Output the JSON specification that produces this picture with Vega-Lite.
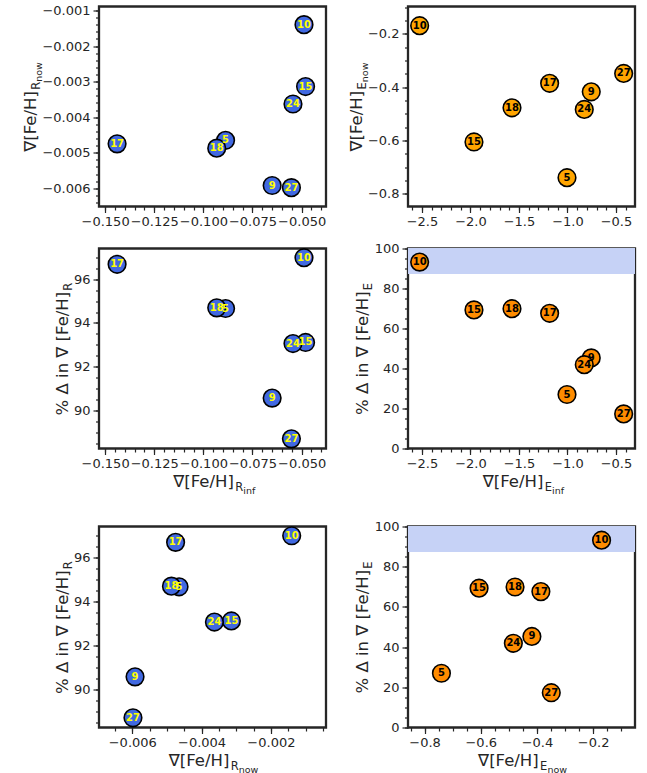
{
  "$schema": "https://vega.github.io/schema/vega-lite/v6.json",
  "padding": {"left": 7, "top": 2.5, "right": 0, "bottom": 0},
  "background": "white",
  "datasets": {
    "gal": [
      {"gal": "5", "R_inf": -0.0887, "R_now": -0.00465, "dR": 94.66, "E_inf": -1.005, "E_now": -0.740, "dE": 27.0},
      {"gal": "9", "R_inf": -0.0650, "R_now": -0.00592, "dR": 90.57, "E_inf": -0.755, "E_now": -0.418, "dE": 45.3},
      {"gal": "10", "R_inf": -0.0488, "R_now": -0.00140, "dR": 96.98, "E_inf": -2.524, "E_now": -0.170, "dE": 93.2},
      {"gal": "15", "R_inf": -0.0480, "R_now": -0.00314, "dR": 93.11, "E_inf": -1.964, "E_now": -0.606, "dE": 69.3},
      {"gal": "17", "R_inf": -0.1439, "R_now": -0.00475, "dR": 96.68, "E_inf": -1.184, "E_now": -0.386, "dE": 67.6},
      {"gal": "18", "R_inf": -0.0932, "R_now": -0.00487, "dR": 94.69, "E_inf": -1.572, "E_now": -0.478, "dE": 69.9},
      {"gal": "24", "R_inf": -0.0544, "R_now": -0.00363, "dR": 93.06, "E_inf": -0.827, "E_now": -0.484, "dE": 41.9},
      {"gal": "27", "R_inf": -0.0552, "R_now": -0.00598, "dR": 88.71, "E_inf": -0.421, "E_now": -0.349, "dE": 17.3}
    ]
  },
  "config": {
    "font": "DejaVu Sans",
    "view": {"stroke": "#262626", "strokeWidth": 2.3},
    "axis": {
      "grid": false, "domain": false,
      "labelFont": "DejaVu Sans", "labelFontSize": 13, "labelColor": "#262626", "labelPadding": 3,
      "labelFlush": false, "labelOverlap": false, "labelBound": false,
      "tickColor": "#262626", "tickWidth": 1.2, "tickSize": 6,
      "titleFont": "DejaVu Sans", "titleColor": "#262626", "titleFontWeight": "normal", "titleFontSize": 16.5,
      "titleAlign": "left", "titleBaseline": "alphabetic"
    }
  },
  "spacing": 10,
  "vconcat": [
    {
      "hconcat": [
        {
          "width": 227, "height": 200,
          "data": {"name": "gal"},
          "layer": [
            {
              "mark": {"type": "circle", "size": 310, "opacity": 1, "fill": "#4169E1", "stroke": "black", "strokeWidth": 1.6},
              "encoding": {
                "x": {"field": "R_inf", "type": "quantitative", "scale": {"domain": [-0.1531, -0.0376], "nice": false, "zero": false},
                      "axis": {"orient": "bottom", "values": [-0.15, -0.125, -0.1, -0.075, -0.05], "format": ".3f", "title": null}},
                "y": {"field": "R_now", "type": "quantitative", "scale": {"domain": [-0.00651, -0.00089], "nice": false, "zero": false},
                      "axis": {"orient": "left", "values": [-0.006, -0.005, -0.004, -0.003, -0.002, -0.001], "format": ".3f", "minExtent": 90,
                               "title": "∇[Fe/H]", "titleX": -63.6, "titleY": 144.8}}
              }
            },
            {
              "mark": {"type": "text", "fontWeight": "bold", "fontSize": 10, "color": "#FFFF00"},
              "encoding": {
                "x": {"field": "R_inf", "type": "quantitative", "scale": {"domain": [-0.1531, -0.0376], "nice": false, "zero": false},
                      "axis": {"orient": "bottom", "labels": false, "tickSize": 3.5, "title": null,
                               "values": [-0.15, -0.145, -0.14, -0.135, -0.13, -0.125, -0.12, -0.115, -0.11, -0.105, -0.1, -0.095, -0.09, -0.085, -0.08, -0.075, -0.07, -0.065, -0.06, -0.055, -0.05, -0.045, -0.04]}},
                "y": {"field": "R_now", "type": "quantitative", "scale": {"domain": [-0.00651, -0.00089], "nice": false, "zero": false},
                      "axis": {"orient": "left", "labels": false, "tickSize": 3.5,
                               "values": [-0.0064, -0.0062, -0.006, -0.0058, -0.0056, -0.0054, -0.0052, -0.005, -0.0048, -0.0046, -0.0044, -0.0042, -0.004, -0.0038, -0.0036, -0.0034, -0.0032, -0.003, -0.0028, -0.0026, -0.0024, -0.0022, -0.002, -0.0018, -0.0016, -0.0014, -0.0012, -0.001],
                               "title": "R", "titleFontSize": 11.5, "titleX": -59.6, "titleY": 82.8}},
                "text": {"field": "gal"}
              }
            },
            {
              "mark": {"type": "point", "opacity": 0},
              "encoding": {
                "x": {"field": "R_inf", "type": "quantitative", "scale": {"domain": [-0.1531, -0.0376], "nice": false, "zero": false}, "axis": null},
                "y": {"field": "R_now", "type": "quantitative", "scale": {"domain": [-0.00651, -0.00089], "nice": false, "zero": false},
                      "axis": {"orient": "left", "labels": false, "ticks": false, "values": [],
                               "title": "now", "titleFontSize": 9.5, "titleX": -57.1, "titleY": 74.8}}
              }
            }
          ],
          "resolve": {"axis": {"x": "independent", "y": "independent"}}
        },
        {
          "width": 227, "height": 200,
          "data": {"name": "gal"},
          "layer": [
            {
              "mark": {"type": "circle", "size": 310, "opacity": 1, "fill": "#FFA500", "stroke": "black", "strokeWidth": 1.6},
              "encoding": {
                "x": {"field": "E_inf", "type": "quantitative", "scale": {"domain": [-2.644, -0.304], "nice": false, "zero": false},
                      "axis": {"orient": "bottom", "values": [-2.5, -2, -1.5, -1, -0.5], "format": ".1f", "title": null}},
                "y": {"field": "E_now", "type": "quantitative", "scale": {"domain": [-0.848, -0.098], "nice": false, "zero": false},
                      "axis": {"orient": "left", "values": [-0.8, -0.6, -0.4, -0.2], "format": ".1f",
                               "title": "∇[Fe/H]", "titleX": -47, "titleY": 144.5}}
              }
            },
            {
              "mark": {"type": "text", "fontWeight": "bold", "fontSize": 10, "color": "black"},
              "encoding": {
                "x": {"field": "E_inf", "type": "quantitative", "scale": {"domain": [-2.644, -0.304], "nice": false, "zero": false},
                      "axis": {"orient": "bottom", "labels": false, "tickSize": 3.5, "title": null,
                               "values": [-2.6, -2.5, -2.4, -2.3, -2.2, -2.1, -2, -1.9, -1.8, -1.7, -1.6, -1.5, -1.4, -1.3, -1.2, -1.1, -1, -0.9, -0.8, -0.7, -0.6, -0.5, -0.4]}},
                "y": {"field": "E_now", "type": "quantitative", "scale": {"domain": [-0.848, -0.098], "nice": false, "zero": false},
                      "axis": {"orient": "left", "labels": false, "tickSize": 3.5,
                               "values": [-0.8, -0.75, -0.7, -0.65, -0.6, -0.55, -0.5, -0.45, -0.4, -0.35, -0.3, -0.25, -0.2, -0.15, -0.1],
                               "title": "E", "titleFontSize": 11.5, "titleX": -43, "titleY": 82.5}},
                "text": {"field": "gal"}
              }
            },
            {
              "mark": {"type": "point", "opacity": 0},
              "encoding": {
                "x": {"field": "E_inf", "type": "quantitative", "scale": {"domain": [-2.644, -0.304], "nice": false, "zero": false}, "axis": null},
                "y": {"field": "E_now", "type": "quantitative", "scale": {"domain": [-0.848, -0.098], "nice": false, "zero": false},
                      "axis": {"orient": "left", "labels": false, "ticks": false, "values": [],
                               "title": "now", "titleFontSize": 9.5, "titleX": -40.5, "titleY": 75.2}}
              }
            }
          ],
          "resolve": {"axis": {"x": "independent", "y": "independent"}}
        }
      ],
      "spacing": 82,
      "bounds": "flush"
    },
    {
      "hconcat": [
        {
          "width": 227, "height": 200,
          "data": {"name": "gal"},
          "layer": [
            {
              "mark": {"type": "circle", "size": 310, "opacity": 1, "fill": "#4169E1", "stroke": "black", "strokeWidth": 1.6},
              "encoding": {
                "x": {"field": "R_inf", "type": "quantitative", "scale": {"domain": [-0.1531, -0.0376], "nice": false, "zero": false},
                      "axis": {"orient": "bottom", "values": [-0.15, -0.125, -0.1, -0.075, -0.05], "format": ".3f", "minExtent": 58.5,
                               "title": "∇[Fe/H]", "titleX": 73.8, "titleY": 38}},
                "y": {"field": "dR", "type": "quantitative", "scale": {"domain": [88.27, 97.4], "nice": false, "zero": false},
                      "axis": {"orient": "left", "values": [90, 92, 94, 96], "format": "d", "minExtent": 90,
                               "title": "% Δ in ∇ [Fe/H]", "titleX": -32, "titleY": 166.4}}
              }
            },
            {
              "mark": {"type": "text", "fontWeight": "bold", "fontSize": 10, "color": "#FFFF00"},
              "encoding": {
                "x": {"field": "R_inf", "type": "quantitative", "scale": {"domain": [-0.1531, -0.0376], "nice": false, "zero": false},
                      "axis": {"orient": "bottom", "labels": false, "tickSize": 3.5,
                               "values": [-0.15, -0.145, -0.14, -0.135, -0.13, -0.125, -0.12, -0.115, -0.11, -0.105, -0.1, -0.095, -0.09, -0.085, -0.08, -0.075, -0.07, -0.065, -0.06, -0.055, -0.05, -0.045, -0.04],
                               "title": "R", "titleFontSize": 11.5, "titleX": 135.8, "titleY": 42}},
                "y": {"field": "dR", "type": "quantitative", "scale": {"domain": [88.27, 97.4], "nice": false, "zero": false},
                      "axis": {"orient": "left", "labels": false, "tickSize": 3.5,
                               "values": [88.5, 89, 89.5, 90, 90.5, 91, 91.5, 92, 92.5, 93, 93.5, 94, 94.5, 95, 95.5, 96, 96.5, 97],
                               "title": "R", "titleFontSize": 11.5, "titleX": -28, "titleY": 41.7}},
                "text": {"field": "gal"}
              }
            },
            {
              "mark": {"type": "point", "opacity": 0},
              "encoding": {
                "x": {"field": "R_inf", "type": "quantitative", "scale": {"domain": [-0.1531, -0.0376], "nice": false, "zero": false},
                      "axis": {"orient": "bottom", "labels": false, "ticks": false, "values": [],
                               "title": "inf", "titleFontSize": 9.5, "titleX": 143.8, "titleY": 44.5}},
                "y": {"field": "dR", "type": "quantitative", "scale": {"domain": [88.27, 97.4], "nice": false, "zero": false}, "axis": null}
              }
            }
          ],
          "resolve": {"axis": {"x": "independent", "y": "independent"}}
        },
        {
          "width": 227, "height": 200,
          "data": {"name": "gal"},
          "layer": [
            {
              "mark": {"type": "rect", "fill": "#C6D2F6", "opacity": 1},
              "encoding": {
                "y": {"datum": 87.5, "type": "quantitative", "scale": {"domain": [0, 100], "nice": false}, "axis": null},
                "y2": {"datum": 100}
              }
            },
            {
              "mark": {"type": "circle", "size": 310, "opacity": 1, "fill": "#FF8C00", "stroke": "black", "strokeWidth": 1.6},
              "encoding": {
                "x": {"field": "E_inf", "type": "quantitative", "scale": {"domain": [-2.644, -0.304], "nice": false, "zero": false},
                      "axis": {"orient": "bottom", "values": [-2.5, -2, -1.5, -1, -0.5], "format": ".1f", "minExtent": 58.5,
                               "title": "∇[Fe/H]", "titleX": 74.2, "titleY": 38}},
                "y": {"field": "dE", "type": "quantitative", "scale": {"domain": [0, 100], "nice": false},
                      "axis": {"orient": "left", "values": [0, 20, 40, 60, 80, 100], "format": "d",
                               "title": "% Δ in ∇ [Fe/H]", "titleX": -40.3, "titleY": 166}}
              }
            },
            {
              "mark": {"type": "text", "fontWeight": "bold", "fontSize": 10, "color": "black"},
              "encoding": {
                "x": {"field": "E_inf", "type": "quantitative", "scale": {"domain": [-2.644, -0.304], "nice": false, "zero": false},
                      "axis": {"orient": "bottom", "labels": false, "tickSize": 3.5,
                               "values": [-2.6, -2.5, -2.4, -2.3, -2.2, -2.1, -2, -1.9, -1.8, -1.7, -1.6, -1.5, -1.4, -1.3, -1.2, -1.1, -1, -0.9, -0.8, -0.7, -0.6, -0.5, -0.4],
                               "title": "E", "titleFontSize": 11.5, "titleX": 136.2, "titleY": 42}},
                "y": {"field": "dE", "type": "quantitative", "scale": {"domain": [0, 100], "nice": false},
                      "axis": {"orient": "left", "labels": false, "tickSize": 3.5,
                               "values": [0, 5, 10, 15, 20, 25, 30, 35, 40, 45, 50, 55, 60, 65, 70, 75, 80, 85, 90, 95, 100],
                               "title": "E", "titleFontSize": 11.5, "titleX": -36.3, "titleY": 41.3}},
                "text": {"field": "gal"}
              }
            },
            {
              "mark": {"type": "point", "opacity": 0},
              "encoding": {
                "x": {"field": "E_inf", "type": "quantitative", "scale": {"domain": [-2.644, -0.304], "nice": false, "zero": false},
                      "axis": {"orient": "bottom", "labels": false, "ticks": false, "values": [],
                               "title": "inf", "titleFontSize": 9.5, "titleX": 143.5, "titleY": 44.5}},
                "y": {"field": "dE", "type": "quantitative", "scale": {"domain": [0, 100], "nice": false}, "axis": null}
              }
            }
          ],
          "resolve": {"axis": {"x": "independent", "y": "independent"}}
        }
      ],
      "spacing": 82,
      "bounds": "flush"
    },
    {
      "hconcat": [
        {
          "width": 227, "height": 201,
          "data": {"name": "gal"},
          "layer": [
            {
              "mark": {"type": "circle", "size": 310, "opacity": 1, "fill": "#4169E1", "stroke": "black", "strokeWidth": 1.6},
              "encoding": {
                "x": {"field": "R_now", "type": "quantitative", "scale": {"domain": [-0.00696, -0.00041], "nice": false, "zero": false},
                      "axis": {"orient": "bottom", "values": [-0.006, -0.004, -0.002], "format": ".3f",
                               "title": "∇[Fe/H]", "titleX": 69.2, "titleY": 38}},
                "y": {"field": "dR", "type": "quantitative", "scale": {"domain": [88.27, 97.4], "nice": false, "zero": false},
                      "axis": {"orient": "left", "values": [90, 92, 94, 96], "format": "d", "minExtent": 90,
                               "title": "% Δ in ∇ [Fe/H]", "titleX": -32, "titleY": 166.9}}
              }
            },
            {
              "mark": {"type": "text", "fontWeight": "bold", "fontSize": 10, "color": "#FFFF00"},
              "encoding": {
                "x": {"field": "R_now", "type": "quantitative", "scale": {"domain": [-0.00696, -0.00041], "nice": false, "zero": false},
                      "axis": {"orient": "bottom", "labels": false, "tickSize": 3.5,
                               "values": [-0.0065, -0.006, -0.0055, -0.005, -0.0045, -0.004, -0.0035, -0.003, -0.0025, -0.002, -0.0015, -0.001, -0.0005],
                               "title": "R", "titleFontSize": 11.5, "titleX": 131.2, "titleY": 42}},
                "y": {"field": "dR", "type": "quantitative", "scale": {"domain": [88.27, 97.4], "nice": false, "zero": false},
                      "axis": {"orient": "left", "labels": false, "tickSize": 3.5,
                               "values": [88.5, 89, 89.5, 90, 90.5, 91, 91.5, 92, 92.5, 93, 93.5, 94, 94.5, 95, 95.5, 96, 96.5, 97],
                               "title": "R", "titleFontSize": 11.5, "titleX": -28, "titleY": 42.2}},
                "text": {"field": "gal"}
              }
            },
            {
              "mark": {"type": "point", "opacity": 0},
              "encoding": {
                "x": {"field": "R_now", "type": "quantitative", "scale": {"domain": [-0.00696, -0.00041], "nice": false, "zero": false},
                      "axis": {"orient": "bottom", "labels": false, "ticks": false, "values": [],
                               "title": "now", "titleFontSize": 9.5, "titleX": 139.2, "titleY": 44.5}},
                "y": {"field": "dR", "type": "quantitative", "scale": {"domain": [88.27, 97.4], "nice": false, "zero": false}, "axis": null}
              }
            }
          ],
          "resolve": {"axis": {"x": "independent", "y": "independent"}}
        },
        {
          "width": 227, "height": 201,
          "data": {"name": "gal"},
          "layer": [
            {
              "mark": {"type": "rect", "fill": "#C6D2F6", "opacity": 1},
              "encoding": {
                "y": {"datum": 87.5, "type": "quantitative", "scale": {"domain": [0, 100], "nice": false}, "axis": null},
                "y2": {"datum": 100}
              }
            },
            {
              "mark": {"type": "circle", "size": 310, "opacity": 1, "fill": "#FF8C00", "stroke": "black", "strokeWidth": 1.6},
              "encoding": {
                "x": {"field": "E_now", "type": "quantitative", "scale": {"domain": [-0.859, -0.051], "nice": false, "zero": false},
                      "axis": {"orient": "bottom", "values": [-0.8, -0.6, -0.4, -0.2], "format": ".1f",
                               "title": "∇[Fe/H]", "titleX": 69.6, "titleY": 38}},
                "y": {"field": "dE", "type": "quantitative", "scale": {"domain": [0, 100], "nice": false},
                      "axis": {"orient": "left", "values": [0, 20, 40, 60, 80, 100], "format": "d",
                               "title": "% Δ in ∇ [Fe/H]", "titleX": -40.3, "titleY": 166.5}}
              }
            },
            {
              "mark": {"type": "text", "fontWeight": "bold", "fontSize": 10, "color": "black"},
              "encoding": {
                "x": {"field": "E_now", "type": "quantitative", "scale": {"domain": [-0.859, -0.051], "nice": false, "zero": false},
                      "axis": {"orient": "bottom", "labels": false, "tickSize": 3.5,
                               "values": [-0.85, -0.8, -0.75, -0.7, -0.65, -0.6, -0.55, -0.5, -0.45, -0.4, -0.35, -0.3, -0.25, -0.2, -0.15, -0.1],
                               "title": "E", "titleFontSize": 11.5, "titleX": 131.6, "titleY": 42}},
                "y": {"field": "dE", "type": "quantitative", "scale": {"domain": [0, 100], "nice": false},
                      "axis": {"orient": "left", "labels": false, "tickSize": 3.5,
                               "values": [0, 5, 10, 15, 20, 25, 30, 35, 40, 45, 50, 55, 60, 65, 70, 75, 80, 85, 90, 95, 100],
                               "title": "E", "titleFontSize": 11.5, "titleX": -36.3, "titleY": 41.8}},
                "text": {"field": "gal"}
              }
            },
            {
              "mark": {"type": "point", "opacity": 0},
              "encoding": {
                "x": {"field": "E_now", "type": "quantitative", "scale": {"domain": [-0.859, -0.051], "nice": false, "zero": false},
                      "axis": {"orient": "bottom", "labels": false, "ticks": false, "values": [],
                               "title": "now", "titleFontSize": 9.5, "titleX": 138.9, "titleY": 44.5}},
                "y": {"field": "dE", "type": "quantitative", "scale": {"domain": [0, 100], "nice": false}, "axis": null}
              }
            }
          ],
          "resolve": {"axis": {"x": "independent", "y": "independent"}}
        }
      ],
      "spacing": 82,
      "bounds": "flush"
    }
  ]
}
